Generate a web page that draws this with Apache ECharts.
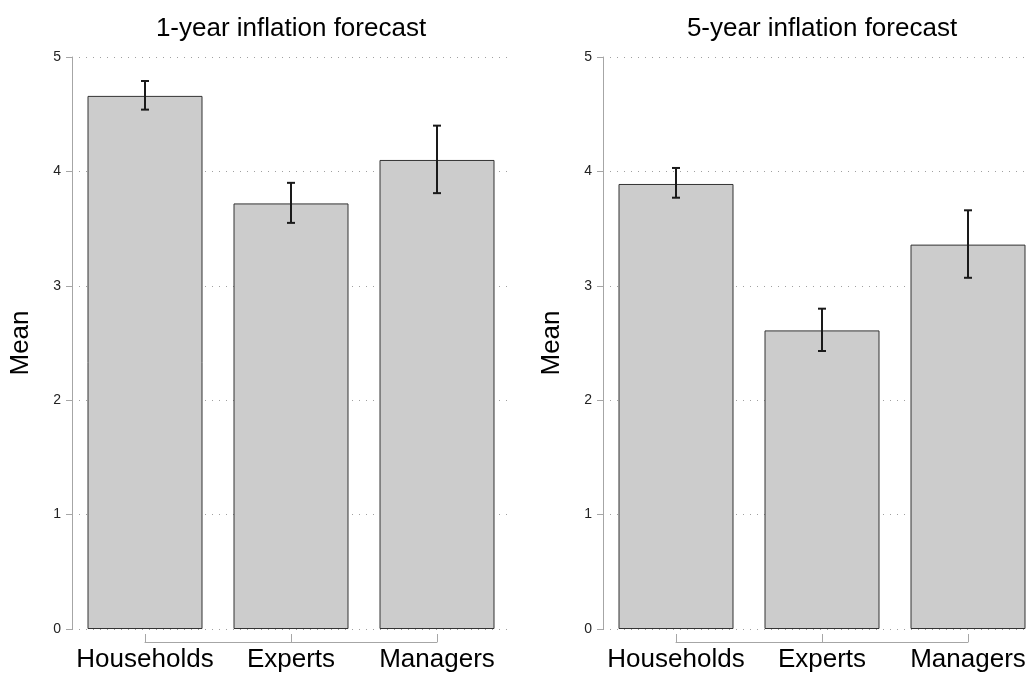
<!DOCTYPE html>
<html>
<head>
<meta charset="utf-8">
<script src="https://cdn.jsdelivr.net/npm/echarts@6/dist/echarts.min.js"></script>
<style>
  html, body { margin: 0; padding: 0; background: #fff; }
  #chart { width: 1030px; height: 680px; }
</style>
</head>
<body>
<div id="chart"></div>
<script>
// data
var categories = ['Households', 'Experts', 'Managers'];
var titles = ['1-year inflation forecast', '5-year inflation forecast'];

var mean1 = [4.66, 3.72, 4.10];
var low1  = [4.54, 3.55, 3.81];
var high1 = [4.79, 3.90, 4.40];

var mean5 = [3.89, 2.61, 3.36];
var low5  = [3.77, 2.43, 3.07];
var high5 = [4.03, 2.80, 3.66];

var FONT = 'Liberation Sans, Arial, sans-serif';
var axisGray = '#a6a6a6';

// each panel: 146px per category, right panel runs off the page edge
var band = 146;
var panels = [
  { left: 72, width: 438 },
  { left: 603, width: 427 }
];

function barData(vals) {
  return vals.map(function (v, i) { return [i, v]; });
}

function errData(lo, hi) {
  return categories.map(function (c, i) { return [i, lo[i], hi[i]]; });
}

function renderErr(params, api) {
  var x = api.value(0);
  var lo = api.coord([x, api.value(1)]);
  var hi = api.coord([x, api.value(2)]);
  var w = 4;
  var style = { stroke: '#1a1a1a', lineWidth: 2 };
  return {
    type: 'group',
    children: [
      { type: 'line', shape: { x1: lo[0], y1: lo[1], x2: hi[0], y2: hi[1] }, style: style },
      { type: 'line', shape: { x1: hi[0] - w, y1: hi[1], x2: hi[0] + w, y2: hi[1] }, style: style },
      { type: 'line', shape: { x1: lo[0] - w, y1: lo[1], x2: lo[0] + w, y2: lo[1] }, style: style }
    ]
  };
}

function valueAxis(idx) {
  return {
    type: 'value', gridIndex: idx, min: 0, max: 5, interval: 1,
    name: 'Mean', nameLocation: 'middle', nameGap: 38,
    nameTextStyle: { fontFamily: FONT, fontSize: 26, color: '#000' },
    axisLine: { show: true, onZero: false, lineStyle: { color: axisGray, width: 1 } },
    axisTick: { show: true, length: 6, lineStyle: { color: axisGray } },
    axisLabel: { fontFamily: FONT, fontSize: 14, color: '#222', margin: 11 },
    splitLine: { show: true, lineStyle: { color: '#a0a0a0', type: [1, 6], width: 1 } }
  };
}

function barAxis(idx, p) {
  return {
    type: 'value', gridIndex: idx, min: -0.5, max: p.width / band - 0.5,
    show: false, splitLine: { show: false }
  };
}

function labelAxis(idx) {
  return {
    type: 'category', gridIndex: idx, data: categories, boundaryGap: false,
    offset: 13,
    axisLine: { show: true, onZero: false, lineStyle: { color: axisGray, width: 1 } },
    axisTick: { show: true, inside: true, length: 8, lineStyle: { color: axisGray } },
    axisLabel: { fontFamily: FONT, fontSize: 26, color: '#000', margin: 5, interval: 0 }
  };
}

function hiddenY(idx) {
  return { type: 'value', gridIndex: idx, show: false, min: 0, max: 5 };
}

var barStyle = { color: '#cccccc', borderColor: '#333333', borderWidth: 1 };
var titleStyle = { fontFamily: FONT, fontSize: 26, fontWeight: 'normal', color: '#000' };

var option = {
  animation: false,
  backgroundColor: '#fff',
  title: [
    { text: titles[0], left: panels[0].left + 1.5 * band, top: 16, padding: 0, textAlign: 'center', textStyle: titleStyle },
    { text: titles[1], left: panels[1].left + 1.5 * band, top: 16, padding: 0, textAlign: 'center', textStyle: titleStyle }
  ],
  grid: [
    { left: panels[0].left, top: 57, width: panels[0].width, height: 572 },
    { left: panels[0].left + band / 2, top: 57, width: 2 * band, height: 572 },
    { left: panels[1].left, top: 57, width: panels[1].width, height: 572 },
    { left: panels[1].left + band / 2, top: 57, width: 2 * band, height: 572 }
  ],
  xAxis: [barAxis(0, panels[0]), labelAxis(1), barAxis(2, panels[1]), labelAxis(3)],
  yAxis: [valueAxis(0), hiddenY(1), valueAxis(2), hiddenY(3)],
  series: [
    { type: 'bar', xAxisIndex: 0, yAxisIndex: 0, data: barData(mean1), barWidth: 115, itemStyle: barStyle },
    { type: 'custom', xAxisIndex: 0, yAxisIndex: 0, data: errData(low1, high1),
      encode: { x: 0, y: [1, 2] }, renderItem: renderErr, z: 5 },
    { type: 'bar', xAxisIndex: 2, yAxisIndex: 2, data: barData(mean5), barWidth: 115, itemStyle: barStyle },
    { type: 'custom', xAxisIndex: 2, yAxisIndex: 2, data: errData(low5, high5),
      encode: { x: 0, y: [1, 2] }, renderItem: renderErr, z: 5 }
  ]
};

var chart = echarts.init(document.getElementById('chart'));
chart.setOption(option);
</script>
</body>
</html>
